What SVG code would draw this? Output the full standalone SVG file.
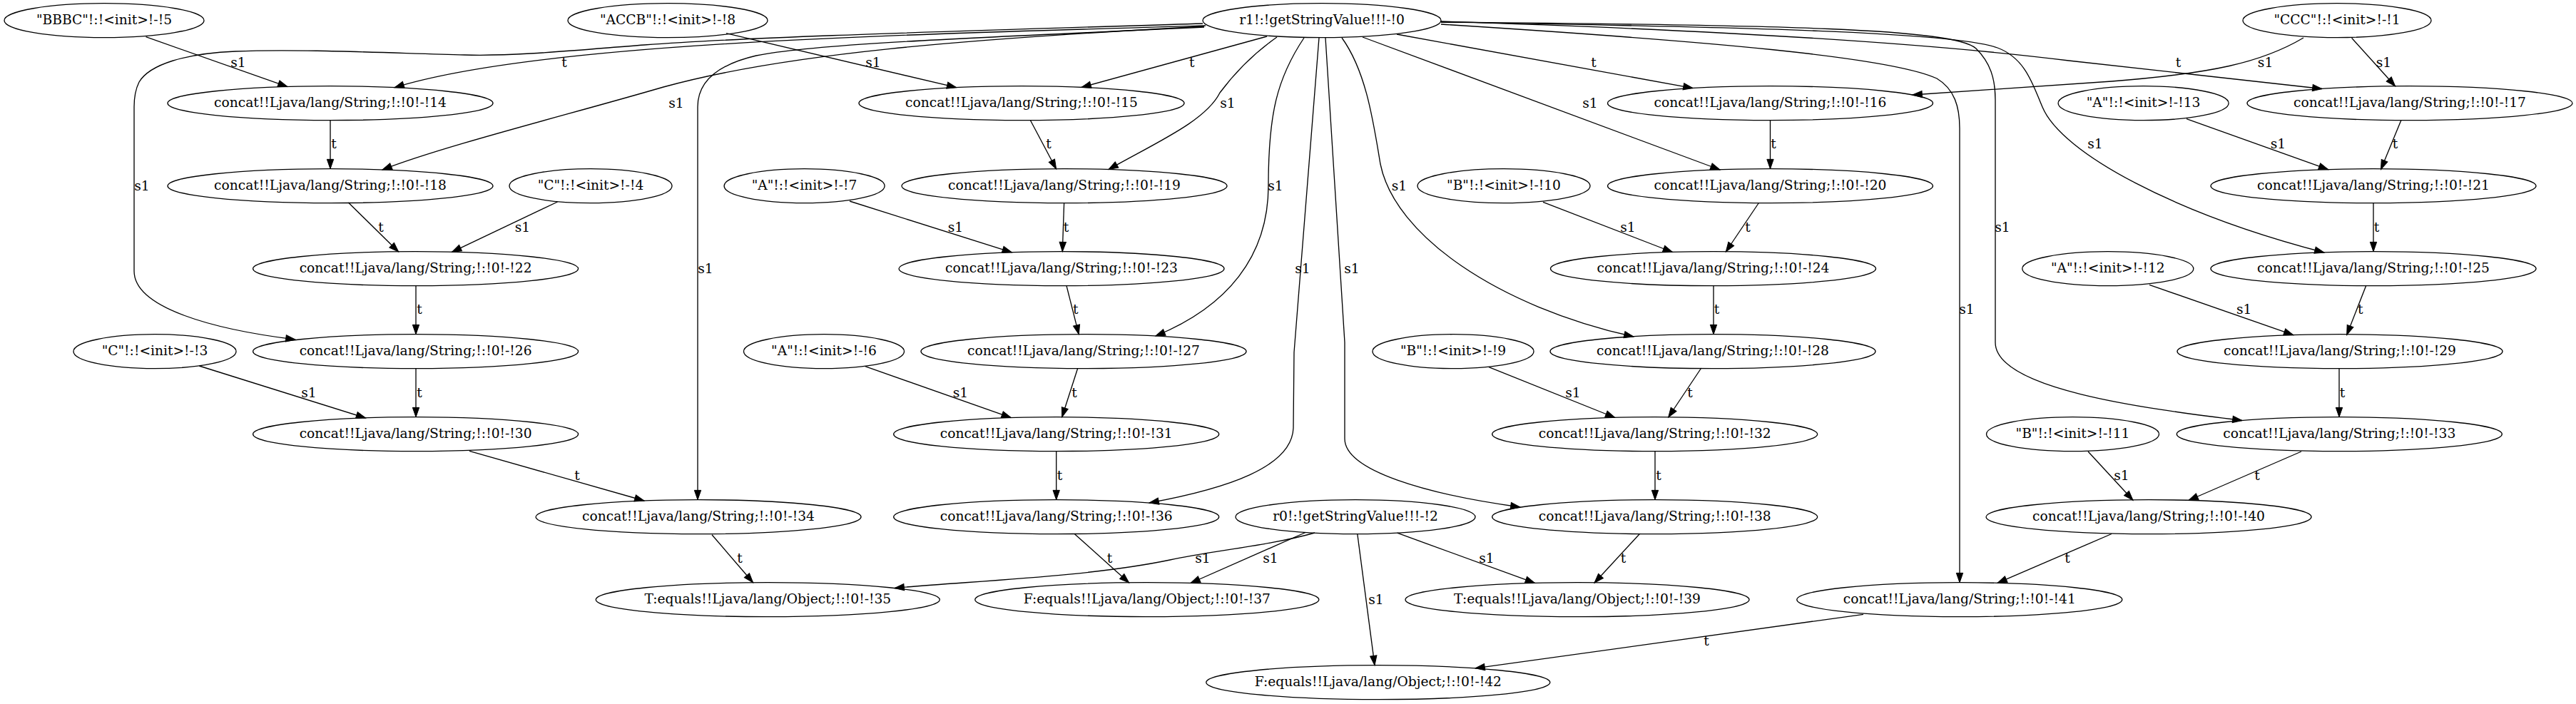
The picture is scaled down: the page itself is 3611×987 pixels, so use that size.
<svg xmlns="http://www.w3.org/2000/svg" width="3611" height="987" viewBox="0 0 3611 987">
<style>
.n ellipse{fill:none;stroke:#000;stroke-width:1.33}
text{font-family:"DejaVu Serif","Liberation Serif",serif;font-size:18.67px;fill:#000;text-anchor:middle}
.e path{fill:none;stroke:#000;stroke-width:1.33;marker-end:url(#ah)}
</style>
<defs>
<marker id="ah" markerUnits="userSpaceOnUse" markerWidth="15" markerHeight="11" refX="13.33" refY="4.67" orient="auto" viewBox="0 0 15 9.34" overflow="visible"><path d="M0,0 L13.33,4.67 L0,9.33 z" fill="#000" stroke="#000" stroke-width="1"/></marker>
</defs>
<rect width="3611" height="987" fill="#fff"/>
<g id="nodes">
<g id="n5" class="n"><ellipse cx="146" cy="28.7" rx="140" ry="24"/><text x="146" y="34.3">"BBBC"!:!&lt;init&gt;!-!5</text></g>
<g id="n8" class="n"><ellipse cx="936" cy="28.7" rx="140" ry="24"/><text x="936" y="34.3">"ACCB"!:!&lt;init&gt;!-!8</text></g>
<g id="n0" class="n"><ellipse cx="1853" cy="28.7" rx="167" ry="24"/><text x="1853" y="34.3">r1!:!getStringValue!!!-!0</text></g>
<g id="n1" class="n"><ellipse cx="3276" cy="28.7" rx="132" ry="24"/><text x="3276" y="34.3">"CCC"!:!&lt;init&gt;!-!1</text></g>
<g id="n14" class="n"><ellipse cx="463" cy="144.7" rx="228" ry="24"/><text x="463" y="150.3">concat!!Ljava/lang/String;!:!0!-!14</text></g>
<g id="n15" class="n"><ellipse cx="1432" cy="144.7" rx="228" ry="24"/><text x="1432" y="150.3">concat!!Ljava/lang/String;!:!0!-!15</text></g>
<g id="n16" class="n"><ellipse cx="2481.5" cy="144.7" rx="228" ry="24"/><text x="2481.5" y="150.3">concat!!Ljava/lang/String;!:!0!-!16</text></g>
<g id="n13" class="n"><ellipse cx="3004.6" cy="144.7" rx="119.5" ry="24"/><text x="3004.6" y="150.3">"A"!:!&lt;init&gt;!-!13</text></g>
<g id="n17" class="n"><ellipse cx="3378" cy="144.7" rx="228" ry="24"/><text x="3378" y="150.3">concat!!Ljava/lang/String;!:!0!-!17</text></g>
<g id="n18" class="n"><ellipse cx="463" cy="260.7" rx="228" ry="24"/><text x="463" y="266.3">concat!!Ljava/lang/String;!:!0!-!18</text></g>
<g id="n4" class="n"><ellipse cx="828" cy="260.7" rx="114" ry="24"/><text x="828" y="266.3">"C"!:!&lt;init&gt;!-!4</text></g>
<g id="n7" class="n"><ellipse cx="1127.6" cy="260.7" rx="112.5" ry="24"/><text x="1127.6" y="266.3">"A"!:!&lt;init&gt;!-!7</text></g>
<g id="n19" class="n"><ellipse cx="1492" cy="260.7" rx="228" ry="24"/><text x="1492" y="266.3">concat!!Ljava/lang/String;!:!0!-!19</text></g>
<g id="n10" class="n"><ellipse cx="2108" cy="260.7" rx="121" ry="24"/><text x="2108" y="266.3">"B"!:!&lt;init&gt;!-!10</text></g>
<g id="n20" class="n"><ellipse cx="2481.5" cy="260.7" rx="228" ry="24"/><text x="2481.5" y="266.3">concat!!Ljava/lang/String;!:!0!-!20</text></g>
<g id="n21" class="n"><ellipse cx="3327" cy="260.7" rx="228" ry="24"/><text x="3327" y="266.3">concat!!Ljava/lang/String;!:!0!-!21</text></g>
<g id="n22" class="n"><ellipse cx="582.6" cy="376.7" rx="228" ry="24"/><text x="582.6" y="382.3">concat!!Ljava/lang/String;!:!0!-!22</text></g>
<g id="n23" class="n"><ellipse cx="1488" cy="376.7" rx="228" ry="24"/><text x="1488" y="382.3">concat!!Ljava/lang/String;!:!0!-!23</text></g>
<g id="n24" class="n"><ellipse cx="2401.5" cy="376.7" rx="228" ry="24"/><text x="2401.5" y="382.3">concat!!Ljava/lang/String;!:!0!-!24</text></g>
<g id="n12" class="n"><ellipse cx="2954.8" cy="376.7" rx="120" ry="24"/><text x="2954.8" y="382.3">"A"!:!&lt;init&gt;!-!12</text></g>
<g id="n25" class="n"><ellipse cx="3327" cy="376.7" rx="228" ry="24"/><text x="3327" y="382.3">concat!!Ljava/lang/String;!:!0!-!25</text></g>
<g id="n3" class="n"><ellipse cx="217" cy="492.7" rx="114" ry="24"/><text x="217" y="498.3">"C"!:!&lt;init&gt;!-!3</text></g>
<g id="n26" class="n"><ellipse cx="582.6" cy="492.7" rx="228" ry="24"/><text x="582.6" y="498.3">concat!!Ljava/lang/String;!:!0!-!26</text></g>
<g id="n6" class="n"><ellipse cx="1155" cy="492.7" rx="112.5" ry="24"/><text x="1155" y="498.3">"A"!:!&lt;init&gt;!-!6</text></g>
<g id="n27" class="n"><ellipse cx="1519" cy="492.7" rx="228" ry="24"/><text x="1519" y="498.3">concat!!Ljava/lang/String;!:!0!-!27</text></g>
<g id="n9" class="n"><ellipse cx="2037" cy="492.7" rx="113" ry="24"/><text x="2037" y="498.3">"B"!:!&lt;init&gt;!-!9</text></g>
<g id="n28" class="n"><ellipse cx="2401" cy="492.7" rx="228" ry="24"/><text x="2401" y="498.3">concat!!Ljava/lang/String;!:!0!-!28</text></g>
<g id="n29" class="n"><ellipse cx="3280" cy="492.7" rx="228" ry="24"/><text x="3280" y="498.3">concat!!Ljava/lang/String;!:!0!-!29</text></g>
<g id="n30" class="n"><ellipse cx="582.6" cy="608.7" rx="228" ry="24"/><text x="582.6" y="614.3">concat!!Ljava/lang/String;!:!0!-!30</text></g>
<g id="n31" class="n"><ellipse cx="1480.7" cy="608.7" rx="228" ry="24"/><text x="1480.7" y="614.3">concat!!Ljava/lang/String;!:!0!-!31</text></g>
<g id="n32" class="n"><ellipse cx="2319.7" cy="608.7" rx="228" ry="24"/><text x="2319.7" y="614.3">concat!!Ljava/lang/String;!:!0!-!32</text></g>
<g id="n11" class="n"><ellipse cx="2905.5" cy="608.7" rx="121" ry="24"/><text x="2905.5" y="614.3">"B"!:!&lt;init&gt;!-!11</text></g>
<g id="n33" class="n"><ellipse cx="3279.3" cy="608.7" rx="228" ry="24"/><text x="3279.3" y="614.3">concat!!Ljava/lang/String;!:!0!-!33</text></g>
<g id="n34" class="n"><ellipse cx="979" cy="724.7" rx="228" ry="24"/><text x="979" y="730.3">concat!!Ljava/lang/String;!:!0!-!34</text></g>
<g id="n36" class="n"><ellipse cx="1480.7" cy="724.7" rx="228" ry="24"/><text x="1480.7" y="730.3">concat!!Ljava/lang/String;!:!0!-!36</text></g>
<g id="n2" class="n"><ellipse cx="1900" cy="724.7" rx="168" ry="24"/><text x="1900" y="730.3">r0!:!getStringValue!!!-!2</text></g>
<g id="n38" class="n"><ellipse cx="2319.7" cy="724.7" rx="228" ry="24"/><text x="2319.7" y="730.3">concat!!Ljava/lang/String;!:!0!-!38</text></g>
<g id="n40" class="n"><ellipse cx="3012" cy="724.7" rx="228" ry="24"/><text x="3012" y="730.3">concat!!Ljava/lang/String;!:!0!-!40</text></g>
<g id="n35" class="n"><ellipse cx="1076.3" cy="840.7" rx="241" ry="24"/><text x="1076.3" y="846.3">T:equals!!Ljava/lang/Object;!:!0!-!35</text></g>
<g id="n37" class="n"><ellipse cx="1607.8" cy="840.7" rx="241" ry="24"/><text x="1607.8" y="846.3">F:equals!!Ljava/lang/Object;!:!0!-!37</text></g>
<g id="n39" class="n"><ellipse cx="2211" cy="840.7" rx="241" ry="24"/><text x="2211" y="846.3">T:equals!!Ljava/lang/Object;!:!0!-!39</text></g>
<g id="n41" class="n"><ellipse cx="2746.8" cy="840.7" rx="228" ry="24"/><text x="2746.8" y="846.3">concat!!Ljava/lang/String;!:!0!-!41</text></g>
<g id="n42" class="n"><ellipse cx="1931.8" cy="956.7" rx="241" ry="24"/><text x="1931.8" y="962.3">F:equals!!Ljava/lang/Object;!:!0!-!42</text></g>
</g>
<g id="edges" class="e">
<path d="M204.5,51.7 L403,121.6"/><text x="334" y="93.5">s1</text>
<path d="M1690,36 C1200,50 750,62 553,122.7"/><text x="791" y="93.5">t</text>
<path d="M1688,37 C1350,55 1100,75 930,122 C800,160 620,205 536,238"/><text x="948" y="150.5">s1</text>
<path d="M1686,33 C1300,45 1050,52 903,63 C800,71 720,79 651,77 C560,75 420,68 330,72 C260,75 210,90 195,115 C190,125 188,135 188,150 L188,380 C188,432 300,462 414,476"/><text x="199" y="266.5">s1</text>
<path d="M1688,38 C1400,52 1150,60 1060,78 C1000,92 978,118 978,150 L978,700.7"/><text x="989" y="382.5">s1</text>
<path d="M1776,51 L1516,122.4"/><text x="1670.7" y="93.5">t</text>
<path d="M1790,52 C1750,80 1725,110 1710,130 C1690,170 1620,200 1554,237.6"/><text x="1721" y="150.5">s1</text>
<path d="M1828,53 C1790,110 1778,160 1778,260 C1778,360 1720,430 1620,471"/><text x="1788" y="266.5">s1</text>
<path d="M1849,53 L1814,494 L1813,600 C1811,655 1720,685 1611,705"/><text x="1826" y="382.5">s1</text>
<path d="M1858,53 L1885,480 L1885,615 C1885,660 2000,693 2131,711"/><text x="1895" y="382.5">s1</text>
<path d="M1881,53 C1915,100 1925,170 1935,230 C1955,330 2100,430 2290,472"/><text x="1961.5" y="266.5">s1</text>
<path d="M1910,52 L2411,238"/><text x="2229" y="150.5">s1</text>
<path d="M1958,48 L2373,123.6"/><text x="2234" y="93.5">t</text>
<path d="M2020,30 C2400,42 2700,60 2900,85 L3255,124.5"/><text x="3053.5" y="93.5">t</text>
<path d="M2020,31 C2450,38 2740,45 2800,67 C2840,82 2850,120 2863,150 C2890,215 3050,300 3258,354"/><text x="2937" y="208">s1</text>
<path d="M2020,31 C2500,35 2740,40 2770,68 C2790,88 2797,110 2797,140 L2797,480 C2797,545 3000,572 3143,589.5"/><text x="2807" y="324.5">s1</text>
<path d="M2020,34 C2400,58 2650,80 2715,110 C2740,125 2747,150 2747,180 L2747,816.7"/><text x="2757" y="439.5">s1</text>
<path d="M1018,46.7 L1340.7,122.7"/><text x="1224" y="93.5">s1</text>
<path d="M3229,53 C3170,88 3100,103 2960,114 L2681,133"/><text x="3175.6" y="93.5">s1</text>
<path d="M3296.6,53.3 L3357.6,120.8"/><text x="3341.5" y="93.5">s1</text>
<path d="M463,168.7 L463,236.7"/><text x="468" y="208">t</text>
<path d="M488.4,284 L558.6,353"/><text x="534" y="324.5">t</text>
<path d="M781.5,283 L633.5,353.3"/><text x="732.5" y="324.5">s1</text>
<path d="M583,400.7 L583,468.7"/><text x="588" y="439.5">t</text>
<path d="M279.3,513 L512.6,586"/><text x="433" y="556.8">s1</text>
<path d="M583,516.7 L583,584.7"/><text x="588" y="556.8">t</text>
<path d="M658,632.3 L903,702"/><text x="809" y="672.5">t</text>
<path d="M998,749.7 L1055.6,816.8"/><text x="1037" y="788.5">t</text>
<path d="M1444.3,168.5 L1480.6,237"/><text x="1470" y="208">t</text>
<path d="M1191,282 L1418.4,353.8"/><text x="1339.5" y="324.5">s1</text>
<path d="M1491.6,284.7 L1489.3,352.7"/><text x="1494.5" y="324.5">t</text>
<path d="M1495,400.7 L1512.3,468.9"/><text x="1507.7" y="439.5">t</text>
<path d="M1212.8,513.7 L1417.3,585.6"/><text x="1346.4" y="556.8">s1</text>
<path d="M1510.6,516.7 L1488.7,584.8"/><text x="1506" y="556.8">t</text>
<path d="M1480.7,632.7 L1480.7,700.7"/><text x="1485.5" y="672.5">t</text>
<path d="M1506.5,748.7 L1582.6,816.9"/><text x="1555.5" y="788.5">t</text>
<path d="M1843,747 C1780,765 1700,772 1640,785 C1520,810 1350,815 1254,824.5"/><text x="1686" y="788.5">s1</text>
<path d="M1830,746.5 L1669,817.5"/><text x="1781" y="788.5">s1</text>
<path d="M1958.6,747.2 L2151.5,817.4"/><text x="2084" y="788.5">s1</text>
<path d="M1902.8,748.7 L1927,932.7"/><text x="1929" y="846.5">s1</text>
<path d="M2298.4,748.5 L2235,817.2"/><text x="2275.4" y="788.5">t</text>
<path d="M2087,514.7 L2263.8,585.5"/><text x="2205" y="556.8">s1</text>
<path d="M2384.8,516 L2338.7,585"/><text x="2369" y="556.8">t</text>
<path d="M2320,632.7 L2320,700.7"/><text x="2325" y="672.5">t</text>
<path d="M2163,283.3 L2344.5,353.5"/><text x="2282" y="324.5">s1</text>
<path d="M2465.4,284.5 L2419.3,353"/><text x="2450" y="324.5">t</text>
<path d="M2402,400.7 L2402,468.7"/><text x="2406.5" y="439.5">t</text>
<path d="M2481.5,168.7 L2481.5,236.7"/><text x="2486" y="208">t</text>
<path d="M3065,166.7 L3263.7,237.7"/><text x="3193.5" y="208">s1</text>
<path d="M3366,168.3 L3337.5,237.5"/><text x="3357.6" y="208">t</text>
<path d="M3327,284.7 L3327,352.7"/><text x="3331.5" y="324.5">t</text>
<path d="M3013,399.3 L3214.8,469.7"/><text x="3145.7" y="439.5">s1</text>
<path d="M3316.7,400.5 L3289.7,469.5"/><text x="3308.7" y="439.5">t</text>
<path d="M3279,516.7 L3279,584.7"/><text x="3283.5" y="556.8">t</text>
<path d="M2927,633 L2990,701.3"/><text x="2974" y="672.5">s1</text>
<path d="M3226,633 L3068,701.5"/><text x="3164" y="672.5">t</text>
<path d="M2960,748.5 L2800,817.4"/><text x="2898" y="788.5">t</text>
<path d="M2612,861.3 L2068,936.9"/><text x="2392" y="904.5">t</text>
</g>
</svg>
